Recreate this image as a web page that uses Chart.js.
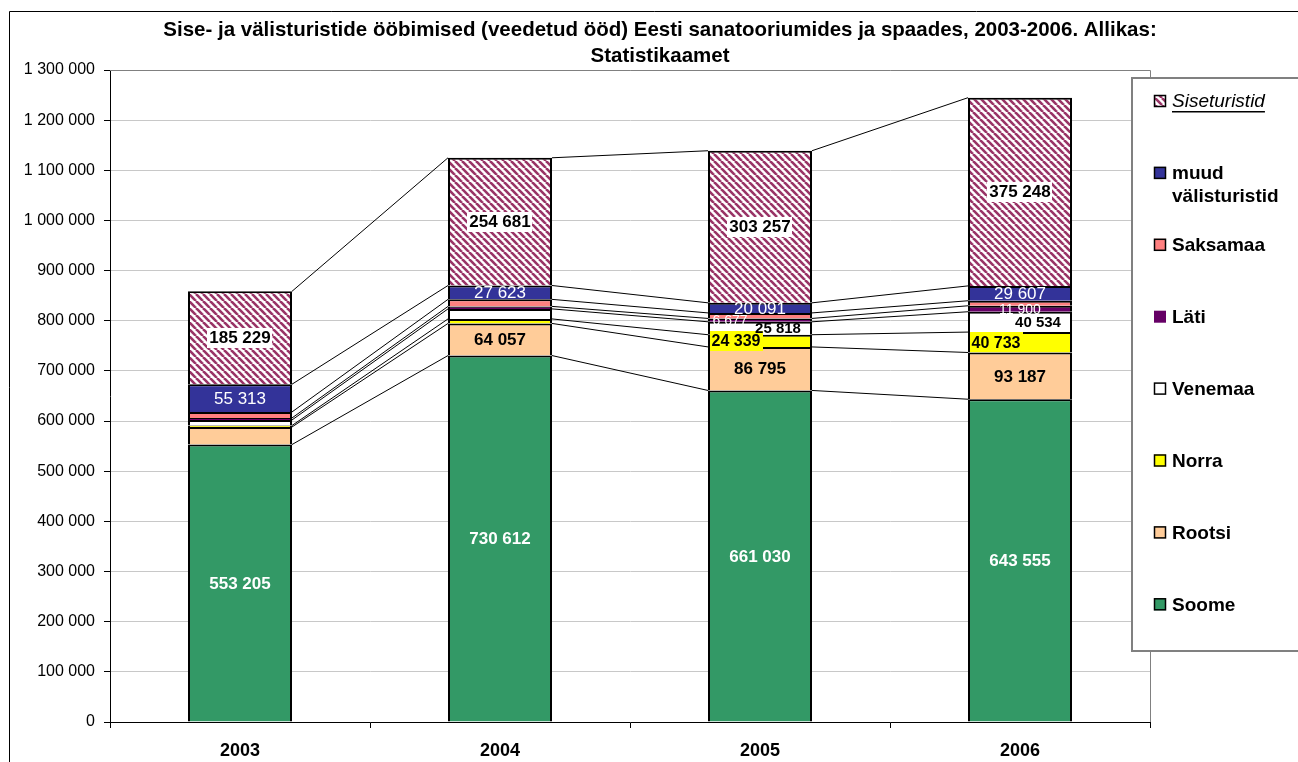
<!DOCTYPE html>
<html>
<head>
<meta charset="utf-8">
<script src="https://cdn.jsdelivr.net/npm/chart.js@4.4.1/dist/chart.umd.min.js"></script>
<style>
  html, body { margin: 0; padding: 0; background: #fff; }
  #wrap { width: 1298px; height: 762px; position: relative; }
</style>
</head>
<body>
<div id="wrap"><canvas id="c" width="1298" height="762"></canvas></div>
<script>
// ---- data ----
const years = ['2003', '2004', '2005', '2006'];
const seriesNames = ['Soome', 'Rootsi', 'Norra', 'Venemaa', 'Läti', 'Saksamaa', 'muud välisturistid', 'Siseturistid'];
const soome    = [553205, 730612, 661030, 643555];
const rootsi   = [35000, 64057, 86795, 93187];
const norra    = [3000, 9000, 24339, 40733];
const venemaa  = [11000, 20000, 25818, 40534];
const lati     = [4000, 5000, 6677, 11900];
const saksamaa = [12000, 14000, 11000, 10000];
const muud     = [55313, 27623, 20091, 29607];
const sise     = [185229, 254681, 303257, 375248];
const yMax = 1300000;
const yStep = 100000;
const titleLines = ['Sise- ja välisturistide ööbimised (veedetud ööd) Eesti sanatooriumides ja spaades, 2003-2006. Allikas:', 'Statistikaamet'];

// ---- styles ----
const FONT = '"Liberation Sans", Arial, Helvetica, sans-serif';
function makePattern() {
  const p = document.createElement('canvas');
  p.width = 7; p.height = 7;
  const g = p.getContext('2d');
  g.fillStyle = '#ffffff'; g.fillRect(0, 0, 7, 7);
  g.strokeStyle = '#993366'; g.lineWidth = 2.6;
  for (const k of [-7, 0, 7]) { g.beginPath(); g.moveTo(k, 0); g.lineTo(k + 7, 7); g.stroke(); }
  return document.getElementById('c').getContext('2d').createPattern(p, 'repeat');
}
const sisePattern = makePattern();
const colors = ['#339966', '#FFCC99', '#FFFF00', '#FFFFFF', '#660066', '#FF8080', '#333399', sisePattern];
const seriesData = [soome, rootsi, norra, venemaa, lati, saksamaa, muud, sise];

const labelStyle = [
  { show: [1, 1, 1, 1], color: '#fff', bold: true, size: 17 },
  { show: [0, 1, 1, 1], color: '#000', bold: true, size: 17 },
  { show: [0, 0, 1, 1], color: '#000', bold: true, size: 16, bg: '#FFFF00', dx: [0, 0, -24, -24] },
  { show: [0, 0, 1, 1], color: '#000', bold: true, size: 15, dx: [0, 0, 18, 18] },
  { show: [0, 0, 1, 1], color: '#fff', bold: false, size: 14, dx: [0, 0, -30, 0] },
  { show: [0, 0, 0, 0] },
  { show: [1, 1, 1, 1], color: '#fff', bold: false, size: 17 },
  { show: [1, 1, 1, 1], color: '#000', bold: true, size: 17, bg: '#fff' }
];

function fmt(v) { return String(v).replace(/\B(?=(\d{3})+(?!\d))/g, ' '); }

const datasets = seriesNames.map((name, i) => ({
  label: name,
  data: seriesData[i],
  backgroundColor: colors[i],
  borderColor: '#000',
  borderWidth: 2,
  categoryPercentage: 1.0,
  barPercentage: 0.4
}));

const decoPlugin = {
  id: 'deco',
  afterDatasetsDraw(chart) {
    const ctx = chart.ctx;
    // series lines
    ctx.save();
    ctx.strokeStyle = '#000';
    ctx.lineWidth = 1;
    chart.data.datasets.forEach((ds, di) => {
      const meta = chart.getDatasetMeta(di);
      for (let i = 0; i < meta.data.length - 1; i++) {
        const a = meta.data[i].getProps(['x', 'y', 'width'], true);
        const b = meta.data[i + 1].getProps(['x', 'y', 'width'], true);
        ctx.beginPath();
        ctx.moveTo(a.x + a.width / 2, a.y);
        ctx.lineTo(b.x - b.width / 2, b.y);
        ctx.stroke();
      }
    });
    ctx.restore();
    // data labels
    ctx.save();
    ctx.textAlign = 'center';
    ctx.textBaseline = 'middle';
    chart.data.datasets.forEach((ds, di) => {
      const st = labelStyle[di];
      const meta = chart.getDatasetMeta(di);
      meta.data.forEach((el, i) => {
        if (!st.show[i]) return;
        const p = el.getProps(['x', 'y', 'base'], true);
        const dx = st.dx ? st.dx[i] : 0;
        const x = p.x + dx;
        const y = (p.y + p.base) / 2;
        const txt = fmt(ds.data[i]);
        ctx.font = (st.bold ? 'bold ' : '') + st.size + 'px ' + FONT;
        if (st.bg) {
          const w = ctx.measureText(txt).width;
          ctx.fillStyle = st.bg;
          ctx.fillRect(Math.round(x - w / 2 - 2), Math.round(y - 10), Math.round(w + 4), 20);
        }
        ctx.fillStyle = st.color;
        ctx.fillText(txt, x, y + 1);
      });
    });
    ctx.restore();
  },
  afterDraw(chart) {
    const ctx = chart.ctx;
    const ca = chart.chartArea;
    ctx.save();
    // plot area border (top / right)
    ctx.strokeStyle = '#808080';
    ctx.lineWidth = 1;
    ctx.beginPath();
    ctx.moveTo(ca.left, ca.top + 0.5);
    ctx.lineTo(ca.right + 0.5, ca.top + 0.5);
    ctx.lineTo(ca.right + 0.5, ca.bottom);
    ctx.stroke();
    // outer border
    ctx.strokeStyle = '#000';
    ctx.beginPath();
    ctx.moveTo(9.5, 800);
    ctx.lineTo(9.5, 11.5);
    ctx.lineTo(1310, 11.5);
    ctx.stroke();
    // title
    ctx.fillStyle = '#000';
    ctx.font = 'bold 20.5px ' + FONT;
    ctx.textAlign = 'center';
    ctx.textBaseline = 'middle';
    ctx.fillText(titleLines[0], 660, 30);
    ctx.fillText(titleLines[1], 660, 56);
    // legend box
    ctx.fillStyle = '#fff';
    ctx.fillRect(1131, 77, 180, 574);
    ctx.strokeStyle = '#808080';
    ctx.lineWidth = 2;
    ctx.strokeRect(1132, 78, 180, 573);
    // legend entries (reverse order: top = last dataset)
    const n = chart.data.datasets.length;
    ctx.textAlign = 'left';
    for (let k = 0; k < n; k++) {
      const di = n - 1 - k;
      const ds = chart.data.datasets[di];
      const yc = 101 + k * 71.9;
      ctx.fillStyle = ds.backgroundColor;
      ctx.fillRect(1154, yc - 6, 12, 12);
      if (di !== 4) {
        ctx.strokeStyle = '#000';
        ctx.lineWidth = 1.5;
        ctx.strokeRect(1154.5, yc - 5.5, 11, 11);
      }
      const italic = di === n - 1;
      ctx.font = (italic ? 'italic ' : 'bold ') + '19px ' + FONT;
      ctx.fillStyle = '#000';
      // wrap words
      const words = ds.label.split(' ');
      const lines = [];
      let cur = '';
      words.forEach(w => {
        const t = cur ? cur + ' ' + w : w;
        if (ctx.measureText(t).width > 118 && cur) { lines.push(cur); cur = w; } else cur = t;
      });
      lines.push(cur);
      lines.forEach((ln, li) => {
        const ty = yc + 1 + li * 23;
        ctx.fillText(ln, 1172, ty);
        if (italic) {
          const w = ctx.measureText(ln).width;
          ctx.fillRect(1172, ty + 9, w, 1.5);
        }
      });
    }
    ctx.restore();
  }
};

new Chart(document.getElementById('c'), {
  type: 'bar',
  data: { labels: years, datasets },
  options: {
    responsive: false,
    animation: false,
    layout: { padding: { top: 70, right: 148, left: 0, bottom: 0 } },
    plugins: { legend: { display: false }, title: { display: false }, tooltip: { enabled: false } },
    scales: {
      x: {
        stacked: true,
        grid: { display: true, drawOnChartArea: false, drawTicks: true, tickLength: 6, tickColor: '#000', offset: true },
        border: { display: true, color: '#000', width: 1 },
        ticks: { color: '#000', font: { family: FONT, size: 18, weight: 'bold' }, padding: 12 },
        afterFit(s) { s.height = 40; }
      },
      y: {
        stacked: true,
        min: 0, max: yMax,
        grid: { color: '#c8c8c8', tickColor: '#000', tickLength: 6, drawTicks: true },
        border: { display: true, color: '#000', width: 1 },
        ticks: { stepSize: yStep, color: '#000', font: { family: FONT, size: 16 }, padding: 9, callback: v => fmt(v) },
        afterFit(s) { s.width = 110; }
      }
    }
  },
  plugins: [decoPlugin]
});
</script>
</body>
</html>
